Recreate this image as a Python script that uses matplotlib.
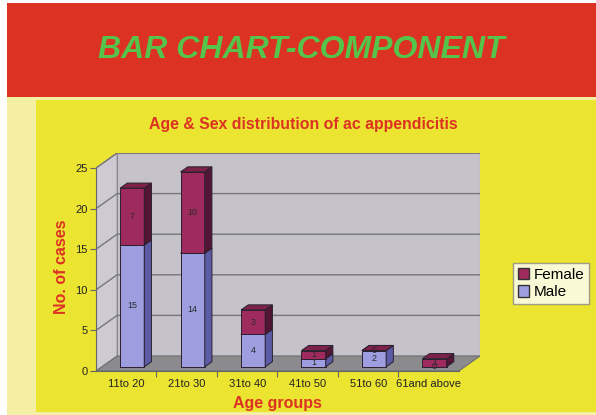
import matplotlib
matplotlib.use('Agg')
import matplotlib.pyplot as plt
from matplotlib.patches import Rectangle, Polygon, Patch

plt.rcParams['font.family'] = ['Liberation Sans', 'DejaVu Sans']

# data
groups = ['11to 20', '21to 30', '31to 40', '41to 50', '51to 60', '61and above']
male = [15, 14, 4, 1, 2, 0]
female = [7, 10, 3, 1, 0, 1]
y_max = 25

# oblique depth of the floor/walls (data units) and bar geometry
DX, DY = 0.35, 1.85
BAR_W = 0.4
D0, D1 = 0.28, 0.62  # bar depth span as fraction of floor depth

W, H = 596, 415
fig = plt.figure(figsize=(W / 100, H / 100), dpi=100)
fig.patch.set_facecolor('white')

def px(x0, y0, x1, y1):
    # pixel box (top-left origin) -> figure fraction rect
    return (x0 / W, 1 - y1 / H, (x1 - x0) / W, (y1 - y0) / H)

def frect(box, color):
    l, b, w, h = px(*box)
    fig.add_artist(Rectangle((l, b), w, h, transform=fig.transFigure,
                             facecolor=color, edgecolor='none', zorder=0))

frect((7, 3, 596, 97), '#dc3224')
frect((7, 97, 596, 415), '#f4efa2')
frect((36, 100, 596, 412), '#ebe430')

fig.text(301 / W, 1 - 50 / H, 'BAR CHART-COMPONENT', ha='center', va='center',
         fontsize=23, fontweight='bold', style='italic', color='#55c44a')
fig.text(303 / W, 1 - 124 / H, 'Age & Sex distribution of ac appendicitis',
         ha='center', va='center', fontsize=11.4, fontweight='bold', color='#dc3224')
fig.text(62 / W, 1 - 267 / H, 'No. of cases', rotation=90, ha='center', va='center',
         fontsize=11.5, fontweight='bold', color='#dc3224')
fig.text(277 / W, 1 - 403 / H, 'Age groups', ha='center', va='center',
         fontsize=11.5, fontweight='bold', color='#dc3224')

n = len(groups)
ax = fig.add_axes(px(96, 153, 480, 371))
ax.set_xlim(0, n + DX)
ax.set_ylim(0, y_max + DY)
ax.patch.set_alpha(0)

# walls and floor
wall_c, side_c, floor_c, grid_c = '#c5c3c9', '#cdcbd1', '#8b8a8c', '#77767a'
ax.add_patch(Polygon([(DX, DY), (n + DX, DY), (n + DX, y_max + DY), (DX, y_max + DY)],
                     closed=True, facecolor=wall_c, edgecolor='#8a898c', lw=0.8, zorder=1))
ax.add_patch(Polygon([(0, 0), (DX, DY), (DX, y_max + DY), (0, y_max)],
                     closed=True, facecolor=side_c, edgecolor='#8a898c', lw=0.8, zorder=1))
ax.add_patch(Polygon([(0, 0), (n, 0), (n + DX, DY), (DX, DY)],
                     closed=True, facecolor=floor_c, edgecolor='#6f6e70', lw=0.8, zorder=2))
for v in range(5, y_max + 1, 5):
    ax.plot([0, DX, n + DX], [v, v + DY, v + DY], color=grid_c, lw=1.0, zorder=1.5)

def box3d(xc, y0, y1, front, side, top):
    x0 = xc - BAR_W / 2 + D0 * DX
    x1 = xc + BAR_W / 2 + D0 * DX
    b0 = y0 + D0 * DY
    b1 = y1 + D0 * DY
    ddx, ddy = (D1 - D0) * DX, (D1 - D0) * DY
    ec = '#2a2030'
    if y1 > y0:
        ax.add_patch(Polygon([(x0, b0), (x1, b0), (x1, b1), (x0, b1)], closed=True,
                             facecolor=front, edgecolor=ec, lw=0.7, zorder=3))
        ax.add_patch(Polygon([(x1, b0), (x1 + ddx, b0 + ddy), (x1 + ddx, b1 + ddy), (x1, b1)],
                             closed=True, facecolor=side, edgecolor=ec, lw=0.7, zorder=3))
    ax.add_patch(Polygon([(x0, b1), (x1, b1), (x1 + ddx, b1 + ddy), (x0 + ddx, b1 + ddy)],
                         closed=True, facecolor=top, edgecolor=ec, lw=0.7, zorder=3))

male_c = ('#9d9de0', '#5c5ca6', '#b3b3ec')
fem_c = ('#9e2a5e', '#521634', '#7c2148')

for i in range(n):
    xc = i + 0.5
    m, f = male[i], female[i]
    if m > 0:
        box3d(xc, 0, m, *male_c)
    if m + f > 0:
        box3d(xc, m, m + f, *fem_c)
    lx = xc + D0 * DX
    ax.text(lx, m / 2 + D0 * DY, str(m), ha='center', va='center', fontsize=6.5,
            color='#2a2a2a', zorder=4)
    ax.text(lx, m + f / 2 + D0 * DY, str(f), ha='center', va='center', fontsize=6.5,
            color='#2a2a2a', zorder=4)

# axes: front y axis at x=0 and category axis at y=0
for s in ['top', 'right']:
    ax.spines[s].set_visible(False)
ax.spines['left'].set_bounds(0, y_max)
ax.spines['bottom'].set_bounds(0, n)
ax.spines['left'].set_color('#666666')
ax.spines['bottom'].set_color('#666666')
ax.spines['left'].set_zorder(5)
ax.set_yticks(range(0, y_max + 1, 5))
ax.tick_params(axis='y', labelsize=8, length=4, color='#666666', pad=2, labelcolor='#222222')
ax.set_xticks(range(1, n))
ax.set_xticklabels([])
ax.set_xticks([i + 0.5 for i in range(n)], minor=True)
ax.set_xticklabels(groups, minor=True)
ax.tick_params(axis='x', which='major', length=4, color='#666666')
ax.tick_params(axis='x', which='minor', length=0, labelsize=8, pad=6, labelcolor='#222222')

handles = [Patch(facecolor=fem_c[0], edgecolor='#333333', label='Female'),
           Patch(facecolor=male_c[0], edgecolor='#333333', label='Male')]
leg = fig.legend(handles=handles, loc='upper left', bbox_to_anchor=(513 / W, 1 - 263 / H),
                 fontsize=11, frameon=True, fancybox=False, handlelength=0.75,
                 handleheight=0.75, handletextpad=0.3, borderpad=0.3, labelspacing=0.25,
                 borderaxespad=0)
leg.get_frame().set_edgecolor('#888888')
leg.get_frame().set_linewidth(1.0)

fig.savefig('out.png', dpi=100)
